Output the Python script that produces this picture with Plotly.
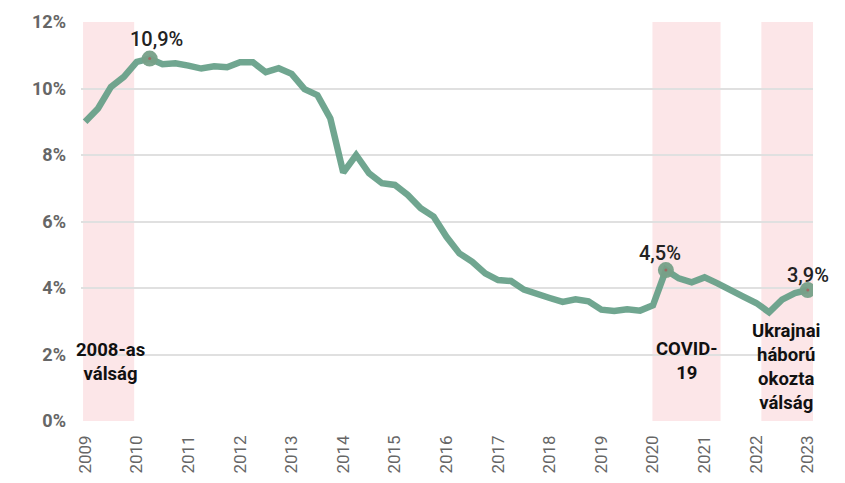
import plotly.graph_objects as go

# Quarterly values, 2009 Q1 .. 2023 Q1 (%)
start_year = 2009
values = [
    9.0, 9.4, 10.05, 10.35,
    10.8, 10.9, 10.73, 10.76,
    10.69, 10.6, 10.67, 10.64,
    10.79, 10.79, 10.49, 10.61,
    10.44, 9.98, 9.8, 9.1,
    7.47, 8.0, 7.45, 7.15,
    7.1, 6.8, 6.4, 6.15,
    5.54, 5.04, 4.79, 4.44,
    4.24, 4.21, 3.95, 3.8,
    3.7, 3.58, 3.66, 3.6,
    3.35, 3.31, 3.36, 3.32,
    3.48, 4.54, 4.29, 4.17,
    4.32, 4.14, 3.92, 3.74,
    3.55, 3.27, 3.65, 3.85,
    3.94,
]
quarters = [start_year + i * 0.25 for i in range(len(values))]

year_ticks = list(range(2009, 2024))
y_ticks = [0, 2, 4, 6, 8, 10, 12]
y_tick_labels = [f"{v}%" for v in y_ticks]

crisis_bands = [(2008.96, 2009.95), (2019.99, 2021.31), (2022.10, 2023.10)]
crisis_labels = ["2008-as<br>válság", "COVID-<br>19", "Ukrajnai<br>háború<br>okozta<br>válság"]
crisis_label_pos = [(2009.5, 1.78), (2020.65, 1.81), (2022.58, 1.63)]

highlight_idx = [5, 45, 56]
highlight_text = ["10,9%", "4,5%", "3,9%"]
highlight_pos = [(2010.39, 11.5), (2020.13, 5.06), (2023.0, 4.39)]

line_color = "rgba(96,156,132,0.9)"

fig = go.Figure()

for x0, x1 in crisis_bands:
    fig.add_shape(type="rect", xref="x", yref="y", x0=x0, x1=x1, y0=0, y1=12,
                  fillcolor="rgba(251,220,222,0.7)", line_width=0, layer="below")

fig.add_trace(go.Scatter(x=quarters, y=values, mode="lines",
                         line=dict(color=line_color, width=6.5), hoverinfo="skip"))

fig.add_trace(go.Scatter(x=[quarters[i] for i in highlight_idx],
                         y=[values[i] for i in highlight_idx],
                         mode="markers",
                         marker=dict(size=16, color="rgba(118,160,136,0.95)"),
                         hoverinfo="skip"))
fig.add_trace(go.Scatter(x=[quarters[i] for i in highlight_idx],
                         y=[values[i] for i in highlight_idx],
                         mode="markers",
                         marker=dict(size=3, color="rgba(170,90,90,0.8)"),
                         hoverinfo="skip"))

for txt, (x, y) in zip(highlight_text, highlight_pos):
    fig.add_annotation(x=x, y=y, text=txt, showarrow=False,
                       font=dict(family="Roboto", size=20, color="#222222", weight=500))

for txt, (x, y) in zip(crisis_labels, crisis_label_pos):
    fig.add_annotation(x=x, y=y, text=txt, showarrow=False,
                       font=dict(family="Roboto", size=18.5, color="#111111", weight="bold"))

fig.update_layout(
    width=845, height=483,
    margin=dict(l=73, r=40, t=14, b=70),
    plot_bgcolor="white", paper_bgcolor="white",
    showlegend=False,
    xaxis=dict(range=[2008.92, 2023.10], tickvals=year_ticks,
               ticktext=[str(y) for y in year_ticks], tickangle=-90,
               showgrid=False, zeroline=False, showline=False, automargin=False,
               tickfont=dict(family="Roboto", size=17, color="#666666"),
               ticklabelstandoff=10),
    yaxis=dict(range=[0, 12], tickvals=y_ticks, ticktext=y_tick_labels,
               showgrid=True, gridcolor="#e0e0e0", gridwidth=1.5,
               zeroline=False, showline=False, automargin=False,
               tickfont=dict(family="Roboto", size=18, color="#666666", weight="bold"),
               ticklabelstandoff=14),
)

fig.write_html("out.html")
